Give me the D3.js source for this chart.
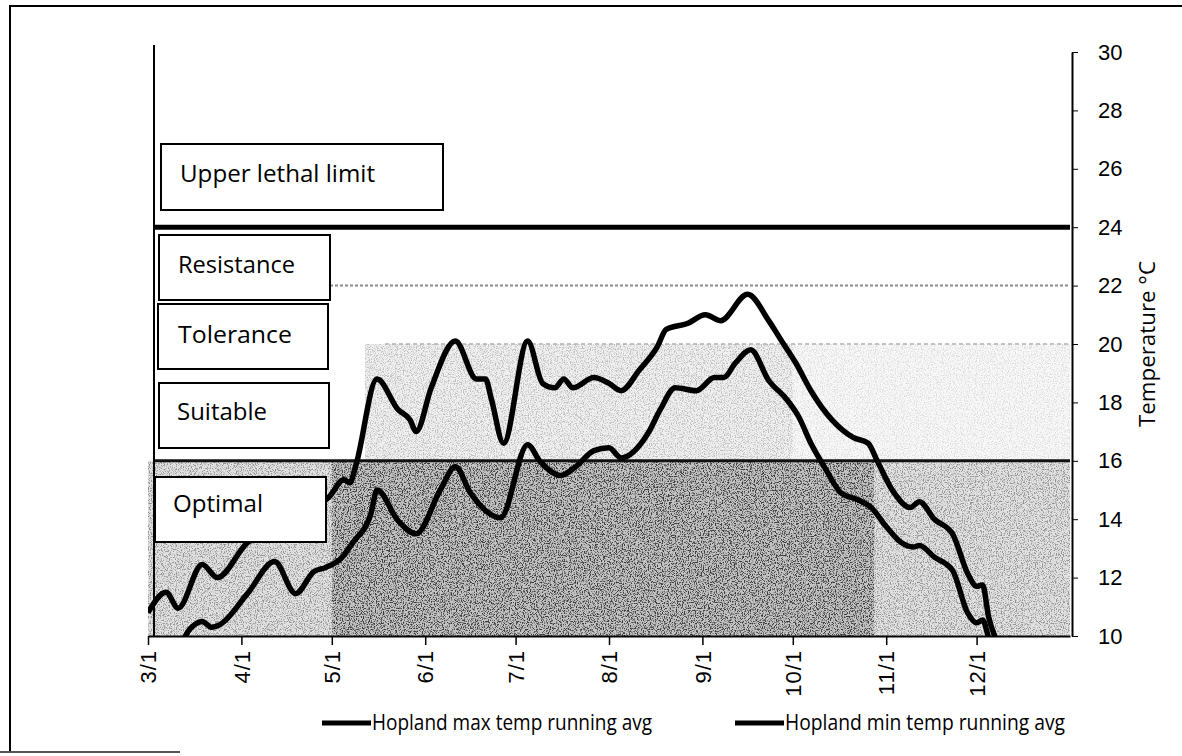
<!DOCTYPE html>
<html>
<head>
<meta charset="utf-8">
<script src="https://cdn.jsdelivr.net/npm/d3@7"></script>
<style>
  body { margin: 0; background: #fff; }
  svg { display: block; font-family: "Open Sans", "Noto Sans", sans-serif; }
</style>
</head>
<body>
<svg id="chart" width="1182" height="756"></svg>
<script>
// --- data ---
const monthTicks = ["3/1", "4/1", "5/1", "6/1", "7/1", "8/1", "9/1", "10/1", "11/1", "12/1"];
const tempTicks = [10, 12, 14, 16, 18, 20, 22, 24, 26, 28, 30];

// Hopland max temp running avg
const maxDates = ["3/1", "3/7", "3/11", "3/19", "3/24", "4/3", "4/12", "4/21", "4/30", "5/5", "5/7", "5/9",
  "5/16", "5/23", "5/27", "5/29", "6/3", "6/11", "6/18", "6/21", "6/23", "6/27", "7/5", "7/10", "7/14",
  "7/17", "7/20", "7/27", "8/1", "8/5", "8/11", "8/17", "8/20", "8/27", "9/2", "9/7", "9/16", "9/23",
  "9/27", "10/2", "10/7", "10/14", "10/21", "10/26", "10/29", "11/3", "11/9", "11/12", "11/17", "11/23",
  "11/28", "12/1", "12/3", "12/5", "12/7", "12/10"];
const maxTemps = [10.8, 11.5, 10.95, 12.45, 12.0, 13.2, 13.7, 14.2, 14.75, 15.35, 15.25, 15.85,
  18.8, 17.75, 17.4, 17.0, 18.5, 20.1, 18.8, 18.8, 18.1, 16.6, 20.1, 18.65, 18.5,
  18.8, 18.5, 18.85, 18.65, 18.4, 19.1, 19.9, 20.5, 20.7, 21.0, 20.8, 21.7, 20.8,
  20.15, 19.35, 18.4, 17.4, 16.8, 16.6, 16.0, 15.0, 14.4, 14.6, 14.0, 13.5,
  12.15, 11.7, 11.75, 10.65, 10.0, 9.4];

// Hopland min temp running avg
const minDates = ["3/1", "3/10", "3/15", "3/19", "3/22", "3/25", "4/3", "4/12", "4/19", "4/25", "4/29",
  "5/4", "5/8", "5/14", "5/16", "5/23", "5/29", "6/6", "6/11", "6/16", "6/26", "7/5", "7/9", "7/16",
  "7/21", "7/27", "8/1", "8/5", "8/14", "8/18", "8/23", "8/30", "9/5", "9/8", "9/12", "9/17", "9/23",
  "9/29", "10/3", "10/7", "10/12", "10/17", "10/23", "10/27", "11/1", "11/6", "11/10", "11/12",
  "11/17", "11/23", "11/28", "12/1", "12/3", "12/5", "12/8"];
const minTemps = [9.0, 9.4, 10.25, 10.5, 10.3, 10.4, 11.45, 12.55, 11.45, 12.2, 12.35,
  12.65, 13.2, 14.2, 15.0, 13.95, 13.5, 15.0, 15.8, 14.9, 14.05, 16.55, 16.0, 15.5,
  15.8, 16.35, 16.45, 16.1, 16.95, 17.75, 18.5, 18.4, 18.85, 18.85, 19.35, 19.8, 18.75,
  18.1, 17.5, 16.6, 15.7, 14.9, 14.65, 14.4, 13.75, 13.2, 13.05, 13.1,
  12.7, 12.25, 10.8, 10.45, 10.55, 9.95, 9.4];

// limit lines (deg C): upper lethal, resistance, tolerance, optimal
const limitTemps = [24, 22, 20, 16];

// shaded zones behind the curves
const shadeFrom = ["3/1", "5/1", "5/12", "10/1"];
const shadeTo = ["1/1", "10/28", "10/1", "1/1"];
const shadeLow = [10, 10, 16, 16];
const shadeHigh = [16, 16, 20, 20];

const zoneLabels = ["Upper lethal limit", "Resistance", "Tolerance", "Suitable", "Optimal"];
const seriesNames = ["Hopland max temp running avg", "Hopland min temp running avg"];

// --- helpers ---
const parseDay = s => {
  const [m, d] = s.split("/").map(Number);
  return new Date(m < 3 ? 2014 : 2013, m - 1, d);
};

const svg = d3.select("#chart");

const x = d3.scaleTime()
  .domain([parseDay("3/1"), parseDay("1/1")])
  .range([148, 1070]);

const y = d3.scaleLinear()
  .domain([10, 30])
  .range([636, 52]);

// speckle filter to mimic the scanned gray fill
const defs = svg.append("defs");
const grain = defs.append("filter").attr("id", "grain")
  .attr("x", 0).attr("y", 0).attr("width", "100%").attr("height", "100%");
grain.append("feTurbulence")
  .attr("type", "fractalNoise")
  .attr("baseFrequency", 0.85)
  .attr("numOctaves", 2)
  .attr("seed", 4)
  .attr("result", "noise");
grain.append("feColorMatrix")
  .attr("in", "noise")
  .attr("type", "matrix")
  .attr("values", "0 0 0 0 0  0 0 0 0 0  0 0 0 0 0  5 0 0 0 -2.4")
  .attr("result", "speck");
grain.append("feComposite")
  .attr("in", "speck")
  .attr("in2", "SourceAlpha")
  .attr("operator", "in");

// outer frame of the scanned figure
svg.append("path")
  .attr("d", "M10,752 V6 H1182")
  .attr("fill", "none")
  .attr("stroke", "#000")
  .attr("stroke-width", 2);
svg.append("path")
  .attr("d", "M0,752 H180")
  .attr("fill", "none")
  .attr("stroke", "#555")
  .attr("stroke-width", 2);

// shaded zones: flat tone plus speckle on top
const shadeFill = ["#e2e2e2", "#c4c4c4", "#f0f0f0", "#f8f8f8"];
const speckOpacity = [0.35, 0.55, 0.2, 0.1];
const shadeData = shadeFrom.map((f, i) => ({ from: parseDay(f), to: parseDay(shadeTo[i]), lo: shadeLow[i], hi: shadeHigh[i], i }));

const shadeG = svg.append("g");
shadeG.selectAll("rect.tone")
  .data(shadeData)
  .join("rect")
  .attr("class", "tone")
  .attr("x", d => x(d.from))
  .attr("width", d => x(d.to) - x(d.from))
  .attr("y", d => y(d.hi))
  .attr("height", d => y(d.lo) - y(d.hi))
  .attr("fill", d => shadeFill[d.i]);
shadeG.selectAll("rect.speck")
  .data(shadeData)
  .join("rect")
  .attr("class", "speck")
  .attr("x", d => x(d.from))
  .attr("width", d => x(d.to) - x(d.from))
  .attr("y", d => y(d.hi))
  .attr("height", d => y(d.lo) - y(d.hi))
  .attr("fill", "#000")
  .attr("opacity", d => speckOpacity[d.i])
  .attr("filter", "url(#grain)");

// limit lines
const limitStyle = [
  { w: 5, c: "#000", dash: null, x0: 153 },
  { w: 2, c: "#8a8a8a", dash: "3,2", x0: 330 },
  { w: 1.5, c: "#b0b0b0", dash: "4,3", x0: 385 },
  { w: 3, c: "#111", dash: null, x0: 153 }
];
svg.append("g").selectAll("line")
  .data(limitTemps)
  .join("line")
  .attr("x1", (d, i) => limitStyle[i].x0)
  .attr("x2", 1070)
  .attr("y1", d => y(d))
  .attr("y2", d => y(d))
  .attr("stroke", (d, i) => limitStyle[i].c)
  .attr("stroke-width", (d, i) => limitStyle[i].w)
  .attr("stroke-dasharray", (d, i) => limitStyle[i].dash);

// left edge line of the plot
svg.append("line")
  .attr("x1", 154).attr("x2", 154)
  .attr("y1", 45).attr("y2", 636)
  .attr("stroke", "#000").attr("stroke-width", 2);

// x axis
const xAxis = svg.append("g")
  .attr("transform", `translate(0,${y(10)})`)
  .call(d3.axisBottom(x)
    .tickValues(monthTicks.map(parseDay))
    .tickFormat(d3.timeFormat("%-m/%-d"))
    .tickSize(9)
    .tickSizeOuter(0));
xAxis.select(".domain").attr("stroke-width", 2);
xAxis.selectAll(".tick line").attr("stroke-width", 1.5);
xAxis.selectAll("text")
  .attr("transform", "rotate(-90)")
  .attr("text-anchor", "end")
  .attr("x", -14)
  .attr("y", 0)
  .attr("dy", "0.35em")
  .style("font-size", "22px")
  .style("letter-spacing", "1px")
  .attr("fill", "#000");

// y axis on the right
const yAxis = svg.append("g")
  .attr("transform", "translate(1072,0)")
  .call(d3.axisRight(y)
    .tickValues(tempTicks)
    .tickSize(6)
    .tickPadding(20)
    .tickSizeOuter(0));
yAxis.select(".domain").attr("stroke-width", 2);
yAxis.selectAll("text")
  .style("font-size", "22px")
  .attr("fill", "#000");

svg.append("text")
  .attr("transform", "translate(1147,344) rotate(-90)")
  .attr("text-anchor", "middle")
  .attr("dy", "0.35em")
  .style("font-size", "22px")
  .attr("textLength", 166)
  .attr("lengthAdjust", "spacingAndGlyphs")
  .text("Temperature \u00B0C");

// temperature curves, clipped to the plot area
svg.append("clipPath").attr("id", "plotClip")
  .append("rect")
  .attr("x", 148).attr("y", y(30))
  .attr("width", 1070 - 148).attr("height", y(10) - y(30));

const line = d3.line()
  .x(d => x(d.date))
  .y(d => y(d.temp))
  .curve(d3.curveMonotoneX);

const series = [
  maxDates.map((s, i) => ({ date: parseDay(s), temp: maxTemps[i] })),
  minDates.map((s, i) => ({ date: parseDay(s), temp: minTemps[i] }))
];

svg.append("g")
  .attr("clip-path", "url(#plotClip)")
  .selectAll("path")
  .data(series)
  .join("path")
  .attr("d", line)
  .attr("fill", "none")
  .attr("stroke", "#000")
  .attr("stroke-width", 5.5)
  .attr("stroke-linejoin", "round");

// zone label boxes (annotation layout)
const boxLayout = [
  { x: 161, y: 144, w: 282, h: 66, tx: 180, ty: 182, tw: 195 },
  { x: 159, y: 235, w: 171, h: 65, tx: 178, ty: 273, tw: 117 },
  { x: 158, y: 304, w: 170, h: 65, tx: 178, ty: 343, tw: 114 },
  { x: 159, y: 383, w: 170, h: 65, tx: 177, ty: 420, tw: 90 },
  { x: 155, y: 477, w: 171, h: 65, tx: 173, ty: 512, tw: 90 }
];
const boxes = svg.append("g").selectAll("g")
  .data(zoneLabels)
  .join("g");
boxes.append("rect")
  .attr("x", (d, i) => boxLayout[i].x)
  .attr("y", (d, i) => boxLayout[i].y)
  .attr("width", (d, i) => boxLayout[i].w)
  .attr("height", (d, i) => boxLayout[i].h)
  .attr("fill", "#fff")
  .attr("stroke", "#000")
  .attr("stroke-width", 2);
boxes.append("text")
  .attr("x", (d, i) => boxLayout[i].tx)
  .attr("y", (d, i) => boxLayout[i].ty)
  .attr("textLength", (d, i) => boxLayout[i].tw)
  .attr("lengthAdjust", "spacingAndGlyphs")
  .style("font-size", "24px")
  .text(d => d);

// legend
const legendX = [322, 735];
const legend = svg.append("g").selectAll("g")
  .data(seriesNames)
  .join("g")
  .attr("transform", (d, i) => `translate(${legendX[i]},723)`);
legend.append("line")
  .attr("x1", 0).attr("x2", 49)
  .attr("stroke", "#000")
  .attr("stroke-width", 5);
legend.append("text")
  .attr("x", 50)
  .attr("dy", "0.35em")
  .attr("textLength", 280)
  .attr("lengthAdjust", "spacingAndGlyphs")
  .style("font-size", "21px")
  .text(d => d);
</script>
</body>
</html>
